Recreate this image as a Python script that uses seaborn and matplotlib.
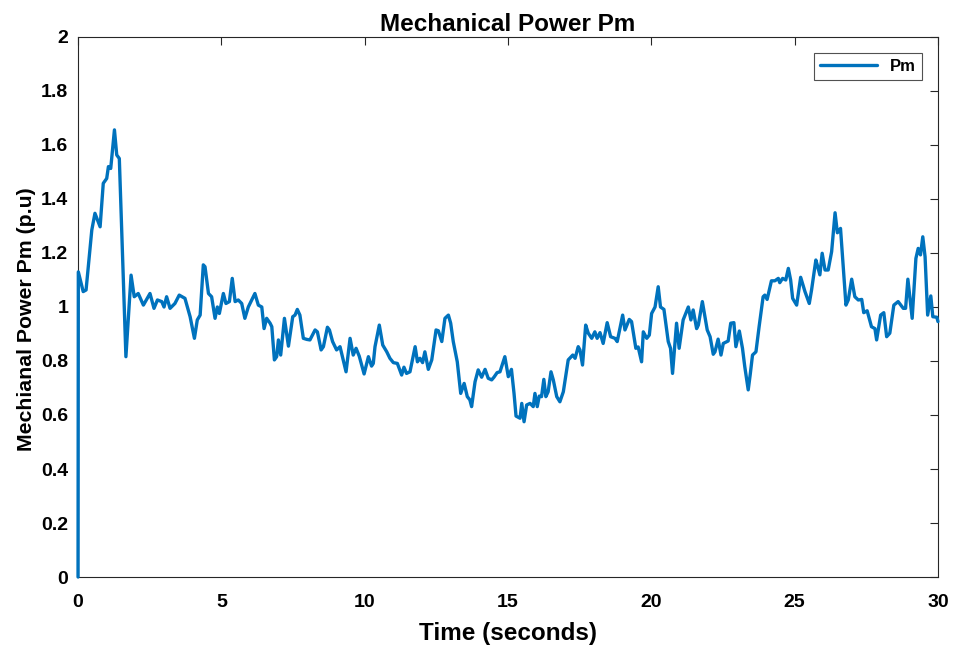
import matplotlib
matplotlib.use("Agg")
import matplotlib.pyplot as plt
import seaborn as sns
import pandas as pd
from matplotlib.ticker import FuncFormatter

time_s = [0.0, 0.01, 0.18, 0.28, 0.48, 0.59, 0.77, 0.88, 1.0, 1.06, 1.14, 1.27, 1.35, 1.44,
          1.67, 1.85, 1.96, 2.1, 2.28, 2.51, 2.65, 2.77, 2.92, 3.0, 3.09, 3.21, 3.38, 3.53,
          3.73, 3.91, 4.06, 4.16, 4.26, 4.37, 4.43, 4.55, 4.66, 4.78, 4.86, 4.93, 5.07, 5.16,
          5.28, 5.38, 5.48, 5.59, 5.71, 5.82, 5.94, 6.17, 6.29, 6.41, 6.49, 6.58, 6.7, 6.76,
          6.85, 6.93, 6.99, 7.07, 7.2, 7.34, 7.49, 7.57, 7.65, 7.74, 7.86, 7.98, 8.09, 8.27,
          8.35, 8.48, 8.56, 8.7, 8.77, 8.88, 9.02, 9.14, 9.35, 9.49, 9.6, 9.7, 9.81, 9.98,
          10.13, 10.24, 10.3, 10.36, 10.51, 10.63, 10.77, 10.88, 11.0, 11.14, 11.29, 11.37,
          11.46, 11.58, 11.76, 11.84, 11.93, 12.02, 12.1, 12.22, 12.34, 12.49, 12.57, 12.69,
          12.8, 12.92, 13.0, 13.09, 13.23, 13.35, 13.47, 13.58, 13.67, 13.73, 13.85, 13.96,
          14.08, 14.2, 14.31, 14.43, 14.51, 14.62, 14.72, 14.89, 15.01, 15.12, 15.21, 15.28,
          15.42, 15.48, 15.56, 15.65, 15.77, 15.88, 15.94, 16.02, 16.09, 16.17, 16.25, 16.32,
          16.4, 16.5, 16.58, 16.7, 16.81, 16.93, 17.1, 17.26, 17.34, 17.45, 17.51, 17.6,
          17.71, 17.8, 17.92, 18.03, 18.11, 18.21, 18.32, 18.46, 18.58, 18.73, 18.81, 19.0,
          19.08, 19.23, 19.31, 19.46, 19.54, 19.66, 19.72, 19.84, 19.93, 20.01, 20.13, 20.24,
          20.32, 20.44, 20.59, 20.67, 20.74, 20.88, 20.97, 21.11, 21.29, 21.38, 21.46, 21.58,
          21.64, 21.78, 21.95, 22.05, 22.16, 22.22, 22.33, 22.43, 22.51, 22.68, 22.77, 22.88,
          22.95, 23.07, 23.18, 23.26, 23.38, 23.45, 23.53, 23.65, 23.76, 23.9, 23.96, 24.04,
          24.19, 24.31, 24.43, 24.48, 24.58, 24.69, 24.78, 24.86, 24.93, 25.07, 25.21, 25.36,
          25.51, 25.59, 25.74, 25.79, 25.88, 25.96, 26.06, 26.17, 26.29, 26.41, 26.49, 26.54,
          26.6, 26.79, 26.87, 26.99, 27.1, 27.22, 27.34, 27.41, 27.53, 27.68, 27.8, 27.86,
          28.0, 28.11, 28.21, 28.32, 28.46, 28.61, 28.79, 28.87, 28.95, 29.1, 29.23, 29.31,
          29.39, 29.47, 29.55, 29.64, 29.75, 29.82, 29.96, 30.0]

pm_values = [0.0, 1.13, 1.057, 1.063, 1.285, 1.347, 1.297, 1.458, 1.476, 1.52, 1.513, 1.656, 1.563, 1.55,
             0.816, 1.118, 1.038, 1.05, 1.007, 1.05, 0.995, 1.026, 1.02, 1.0, 1.038, 0.995, 1.013, 1.044,
             1.032, 0.964, 0.884, 0.952, 0.97, 1.156, 1.149, 1.05, 1.038, 0.958, 1.0, 0.976, 1.05, 1.013,
             1.02, 1.106, 1.02, 1.026, 1.013, 0.958, 1.0, 1.05, 1.007, 1.0, 0.92, 0.958, 0.94, 0.927,
             0.804, 0.816, 0.878, 0.822, 0.958, 0.855, 0.964, 0.97, 0.991, 0.97, 0.884, 0.88, 0.878, 0.915,
             0.908, 0.841, 0.853, 0.925, 0.915, 0.872, 0.841, 0.853, 0.76, 0.884, 0.822, 0.847, 0.818, 0.752,
             0.816, 0.781, 0.791, 0.853, 0.933, 0.859, 0.834, 0.81, 0.794, 0.791, 0.748, 0.777,
             0.754, 0.76, 0.853, 0.797, 0.81, 0.794, 0.834, 0.769, 0.804, 0.915, 0.912, 0.872,
             0.958, 0.97, 0.94, 0.872, 0.797, 0.68, 0.717, 0.668, 0.656, 0.631, 0.723, 0.767,
             0.74, 0.769, 0.736, 0.73, 0.74, 0.757, 0.76, 0.816, 0.742, 0.769, 0.68, 0.596,
             0.588, 0.643, 0.575, 0.637, 0.643, 0.631, 0.68, 0.631, 0.67, 0.668, 0.732, 0.668,
             0.686, 0.76, 0.73, 0.668, 0.649, 0.686, 0.804, 0.822, 0.81, 0.853, 0.841, 0.785,
             0.933, 0.903, 0.884, 0.908, 0.884, 0.905, 0.865, 0.942, 0.89, 0.884, 0.872, 0.97,
             0.915, 0.954, 0.946, 0.847, 0.852, 0.797, 0.908, 0.884, 0.896, 0.976, 1.0, 1.075,
             1.0, 0.991, 0.872, 0.847, 0.754, 0.94, 0.847, 0.952, 1.0, 0.952, 0.989, 0.92,
             0.933, 1.02, 0.915, 0.89, 0.825, 0.834, 0.881, 0.822, 0.865, 0.874, 0.94, 0.942,
             0.853, 0.911, 0.847, 0.779, 0.693, 0.75, 0.822, 0.834, 0.927, 1.038, 1.044, 1.028,
             1.097, 1.097, 1.106, 1.09, 1.106, 1.1, 1.143, 1.1, 1.032, 1.007, 1.11, 1.057,
             1.013, 1.063, 1.174, 1.155, 1.119, 1.199, 1.137, 1.137, 1.205, 1.349, 1.275, 1.281,
             1.291, 1.007, 1.026, 1.103, 1.038, 1.026, 1.028, 0.979, 0.986, 0.927, 0.92, 0.878,
             0.97, 0.979, 0.89, 0.903, 1.007, 1.02, 0.995, 0.995, 1.103, 0.958, 1.18, 1.217,
             1.193, 1.26, 1.186, 0.97, 1.041, 0.964, 0.962, 0.946]

x_ticks = [0, 5, 10, 15, 20, 25, 30]
y_ticks = [0, 0.2, 0.4, 0.6, 0.8, 1.0, 1.2, 1.4, 1.6, 1.8, 2.0]

df = pd.DataFrame({"Time": time_s, "Pm": pm_values})

sns.set_theme(style="white")
plt.rcParams["font.family"] = ["Liberation Sans", "DejaVu Sans"]
plt.rcParams["font.weight"] = "bold"
plt.rcParams["text.color"] = "black"
plt.rcParams["axes.labelcolor"] = "black"

fig = plt.figure(figsize=(9.54, 6.5), dpi=100)
ax = fig.add_axes([0.0818, 0.1123, 0.9014, 0.8308])

sns.lineplot(data=df, x="Time", y="Pm", ax=ax, color="#0072BD", linewidth=2.4,
             label="Pm", sort=False, estimator=None)
for ln in ax.get_lines():
    ln.set_clip_on(False)
    ln.set_zorder(5)

ax.set_xlim(0, 30)
ax.set_ylim(0, 2)
ax.set_xticks(x_ticks)
ax.set_yticks(y_ticks)
ax.yaxis.set_major_formatter(FuncFormatter(lambda v, p: f"{v:g}"))
ax.tick_params(direction="in", length=6, width=0.8, colors="#262626",
               top=True, right=True, labelsize=14, labelcolor="black")
ax.tick_params(axis="x", pad=12)
ax.tick_params(axis="y", pad=7)
for lab in ax.get_xticklabels() + ax.get_yticklabels():
    lab.set_fontweight("bold")
for sp in ax.spines.values():
    sp.set_color("#262626")
    sp.set_linewidth(0.8)

ax.set_xlabel("Time (seconds)", fontsize=17.5, fontweight="bold", color="black")
ax.set_ylabel("Mechianal Power Pm (p.u)", fontsize=15.3, fontweight="bold", color="black")
ax.xaxis.set_label_coords(0.5, -0.083)
ax.yaxis.set_label_coords(-0.049, 0.478)
ax.set_title("Mechanical Power Pm", fontsize=17.5, fontweight="bold", color="black", pad=4)

leg = ax.legend(loc="upper right", bbox_to_anchor=(0.9814, 0.970), fontsize=12,
                frameon=True, fancybox=False, edgecolor="#262626", handlelength=3.4,
                borderpad=0.35, borderaxespad=0.0)
leg.get_frame().set_linewidth(0.8)
for t in leg.get_texts():
    t.set_fontweight("bold")

fig.savefig("out.png", dpi=100, facecolor="white")
